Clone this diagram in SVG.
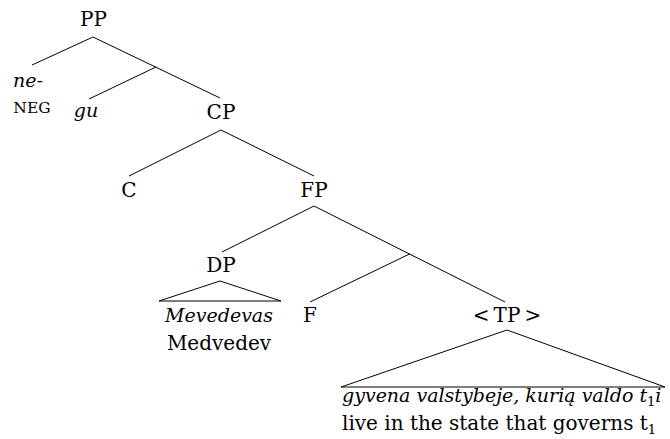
<svg xmlns="http://www.w3.org/2000/svg" width="670" height="439" viewBox="0 0 670 439">
<style>
text{font-family:"DejaVu Serif","Liberation Serif",serif;font-size:20px;fill:#000}
.m{text-anchor:middle}
.i{font-style:italic;font-size:19px}
.sc{font-size:15.5px}
.e{stroke:#000;stroke-width:1;fill:none}
</style>
<rect width="670" height="439" fill="#fff"/>
<g id="edges">
<line class="e" x1="93" y1="37" x2="32" y2="65"/>
<line class="e" x1="93" y1="37" x2="220" y2="98"/>
<line class="e" x1="156" y1="67" x2="89" y2="99"/>
<line class="e" x1="221" y1="130" x2="129" y2="176"/>
<line class="e" x1="221" y1="130" x2="314" y2="176"/>
<line class="e" x1="314" y1="206" x2="222" y2="252"/>
<line class="e" x1="314" y1="206" x2="505" y2="302"/>
<line class="e" x1="409.5" y1="254" x2="310" y2="302"/>
<polygon class="e" points="220,281 159,301 281,301"/>
<polygon class="e" points="507,330 341,387 665,387"/>
</g>
<g id="PP"><text class="m" x="93.5" y="26">PP</text></g>
<g id="ne"><text class="m i" x="28" y="87">ne-</text><text class="m sc" x="32" y="113">NEG</text></g>
<g id="gu"><text class="m i" x="86" y="117">gu</text></g>
<g id="CP"><text class="m" x="221" y="119">CP</text></g>
<g id="C"><text class="m" x="129" y="197">C</text></g>
<g id="FP"><text class="m" x="314" y="197">FP</text></g>
<g id="DP"><text class="m" x="221" y="272">DP</text>
<text class="m i" x="219" y="322">Mevedevas</text>
<text class="m" x="219" y="350">Medvedev</text></g>
<g id="F"><text class="m" x="310" y="322">F</text></g>
<g id="TP"><text class="m" x="507" y="322">&lt;&#8201;TP&#8201;&gt;</text>
<text class="i" x="342" y="402">gyvena valstybeje, kurią valdo t<tspan font-size="13" dy="4" font-style="normal">1</tspan><tspan dy="-4">i</tspan></text>
<text x="342" y="430" font-size="20.5">live in the state that governs t<tspan font-size="13" dy="4">1</tspan></text></g>
</svg>
